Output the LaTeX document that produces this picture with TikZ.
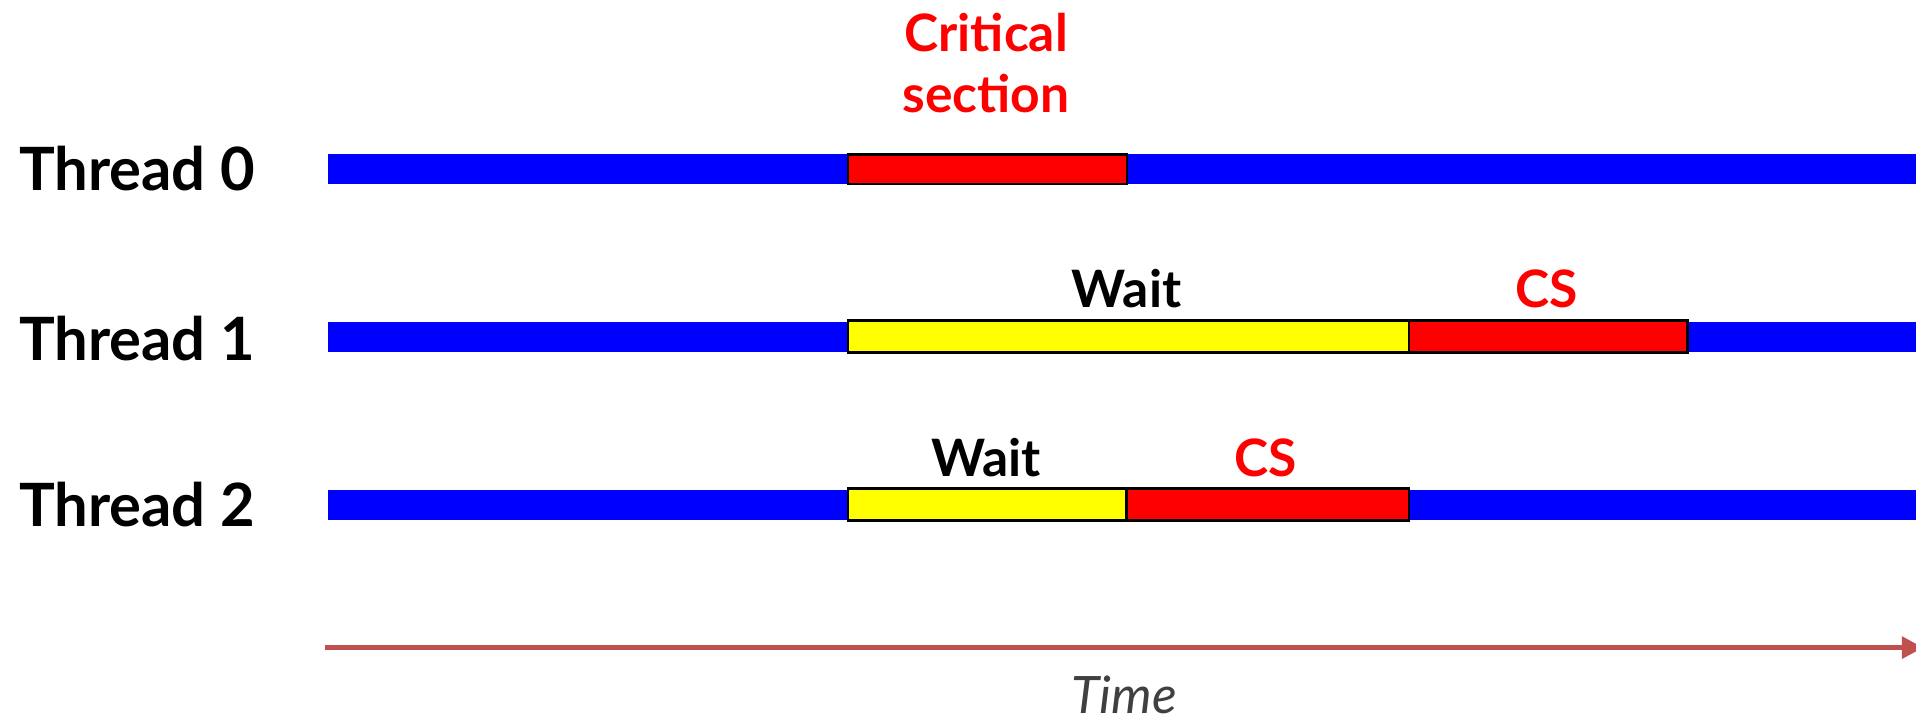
\documentclass[tikz,border=0pt]{standalone}
\usepackage{fontspec}
\setmainfont{Lato}
\usetikzlibrary{arrows.meta}
\definecolor{barblue}{HTML}{0000FF}
\definecolor{csred}{HTML}{FF0000}
\definecolor{waityellow}{HTML}{FFFF00}
\definecolor{timearrow}{HTML}{C0504D}
\definecolor{timegray}{HTML}{404040}
\tikzset{
  threadlabel/.style={font=\fontsize{13.9}{17}\selectfont\bfseries, anchor=west, inner sep=0pt},
  bluebar/.style={fill=barblue, draw=none, inner sep=0pt, minimum height=0.245cm},
  csbox/.style={fill=csred, draw=black, line width=0.6pt, inner sep=0pt, minimum height=0.24cm},
  waitbox/.style={fill=waityellow, draw=black, line width=0.6pt, inner sep=0pt, minimum height=0.26cm},
  cslabel/.style={font=\fontsize{12}{14.2}\selectfont\bfseries, text=csred, anchor=base, inner sep=0pt},
  waitlabel/.style={font=\fontsize{12}{14.2}\selectfont\bfseries, text=black, anchor=base, inner sep=0pt},
}
\begin{document}
\begin{tikzpicture}[x=0.01cm,y=-0.01cm]
\useasboundingbox (0,0) rectangle (1568,589);
% thread labels
\node[threadlabel] (t0) at (15,138) {Thread 0};
\node[threadlabel] (t1) at (15,277) {Thread 1};
\node[threadlabel] (t2) at (15,413) {Thread 2};
% blue bars
\node[bluebar, minimum width=13.2cm, anchor=west] (b0) at (268,138) {};
\node[bluebar, minimum width=13.2cm, anchor=west] (b1) at (268,276) {};
\node[bluebar, minimum width=13.2cm, anchor=west] (b2) at (268,413) {};
% thread 0
\node[csbox, minimum width=2.28cm, anchor=west] (cs0) at (693,138.5) {};
\node[cslabel, align=center] (cs0l) at (807,92) {Critical\\section};
% thread 1
\node[waitbox, minimum width=4.59cm, anchor=west] (w1) at (693,275.5) {};
\node[csbox, minimum width=2.28cm, minimum height=0.26cm, anchor=west] (cs1) at (1152,275.5) {};
\node[waitlabel] (w1l) at (922,252) {Wait};
\node[cslabel] (cs1l) at (1266,252) {CS};
% thread 2
\node[waitbox, minimum width=2.28cm, anchor=west] (w2) at (693,413) {};
\node[csbox, minimum width=2.31cm, minimum height=0.26cm, anchor=west] (cs2) at (921,413) {};
\node[waitlabel] (w2l) at (807,390) {Wait};
\node[cslabel] (cs2l) at (1036,390) {CS};
% time axis
\coordinate (ts) at (266,530);
\coordinate (te) at (1574,530);
\draw[timearrow, line width=1.1pt, -{Triangle[length=5pt,width=5pt]}] (ts) -- (te);
\node[font=\fontsize{12}{14}\selectfont\itshape, text=timegray, anchor=base] (time) at (920,584) {Time};
\end{tikzpicture}
\end{document}
